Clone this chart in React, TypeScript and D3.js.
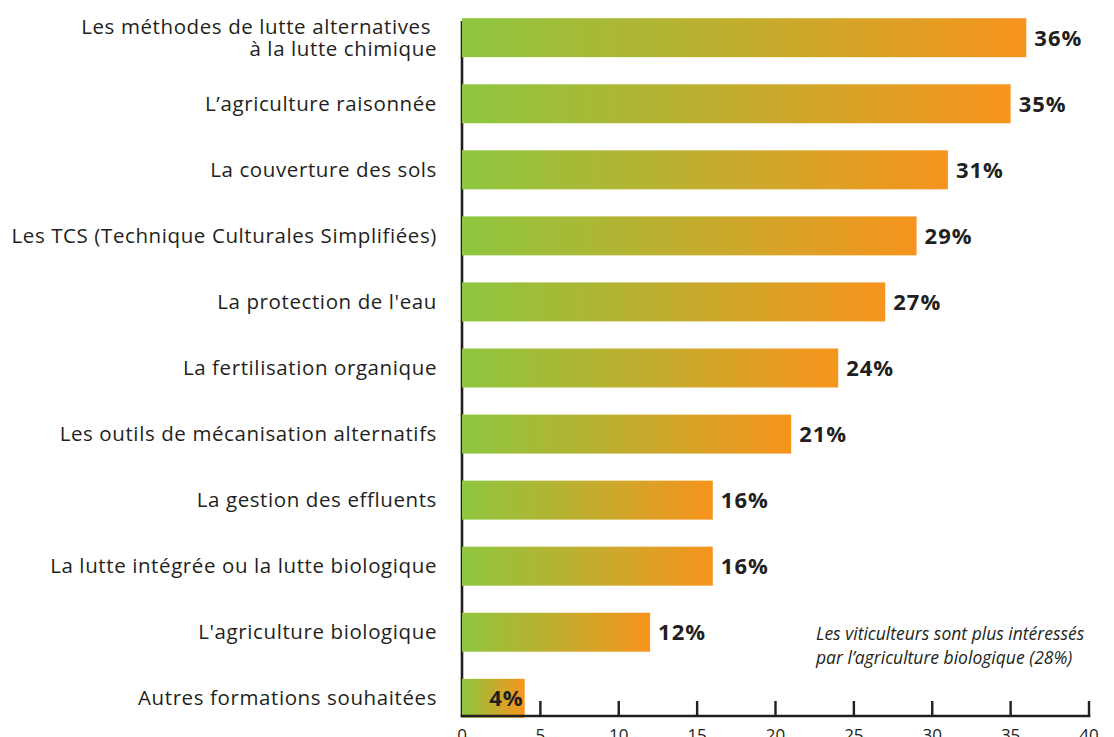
import React from "react";
import * as d3 from "d3";

const categories: string[][] = [
  ["Les méthodes de lutte alternatives ", "à la lutte chimique"],
  ["L’agriculture raisonnée"],
  ["La couverture des sols"],
  ["Les TCS (Technique Culturales Simplifiées)"],
  ["La protection de l'eau"],
  ["La fertilisation organique"],
  ["Les outils de mécanisation alternatifs"],
  ["La gestion des effluents"],
  ["La lutte intégrée ou la lutte biologique"],
  ["L'agriculture biologique"],
  ["Autres formations souhaitées"],
];
const values: number[] = [36, 35, 31, 29, 27, 24, 21, 16, 16, 12, 4];
const xTicks: number[] = [0, 5, 10, 15, 20, 25, 30, 35, 40];
const note: string[] = [
  "Les viticulteurs sont plus intéressés",
  "par l’agriculture biologique (28%)",
];

const W = 1114;
const H = 737;
const FONT = "'Open Sans', 'Noto Sans', sans-serif";
const INK = "#231f20";

export default function App() {
  const x = d3.scaleLinear().domain([0, 40]).range([462, 1089]);
  const y = d3
    .scaleBand<number>()
    .domain(d3.range(values.length))
    .range([5, 731])
    .paddingInner(0.41)
    .paddingOuter(0.2);
  const axisY = 716;

  return (
    <svg
      width={W}
      height={H}
      style={{ position: "absolute", left: 0, top: 0, background: "#fff" }}
    >
      <defs>
        <linearGradient id="barGrad" x1="0" y1="0" x2="1" y2="0">
          <stop offset="0" stopColor="#8dc63f" />
          <stop offset="1" stopColor="#f7941d" />
        </linearGradient>
      </defs>
      {/* vertical axis */}
      <line x1={x(0)} x2={x(0)} y1={21} y2={axisY + 1.3} stroke={INK} strokeWidth={2.6} />
      {/* bars */}
      {values.map((v, i) => (
        <rect
          key={i}
          x={x(0)}
          y={y(i)!}
          width={x(v) - x(0)}
          height={y.bandwidth()}
          fill="url(#barGrad)"
        />
      ))}
      {/* horizontal axis */}
      <line x1={x(0) - 1.3} x2={x(40) + 1.3} y1={axisY} y2={axisY} stroke={INK} strokeWidth={2.6} />
      {xTicks.slice(1).map((t) => (
        <line key={t} x1={x(t)} x2={x(t)} y1={axisY} y2={axisY - 15} stroke={INK} strokeWidth={2.4} />
      ))}
      {xTicks.map((t) => (
        <text
          key={"l" + t}
          x={x(t)}
          y={741}
          textAnchor="middle"
          fontFamily={FONT}
          fontSize={17}
          fill={INK}
        >
          {t}
        </text>
      ))}
      {/* category labels */}
      {categories.map((lines, i) => {
        const cy = y(i)! + y.bandwidth() / 2;
        const lh = 22;
        const startY = cy - ((lines.length - 1) * lh) / 2 + 7;
        return (
          <text
            key={"c" + i}
            textAnchor="end"
            fontFamily={FONT}
            fontSize={20.5}
            letterSpacing={0.6}
            fill={INK}
            style={{ whiteSpace: "pre" }}
          >
            {lines.map((ln, j) => (
              <tspan key={j} x={437} y={startY + j * lh}>
                {ln}
              </tspan>
            ))}
          </text>
        );
      })}
      {/* value labels */}
      {values.map((v, i) => {
        const cy = y(i)! + y.bandwidth() / 2;
        const inside = v < 8;
        return (
          <text
            key={"v" + i}
            x={inside ? x(v) - 1 : x(v) + 8}
            y={cy + 8}
            textAnchor={inside ? "end" : "start"}
            fontFamily={FONT}
            fontWeight="bold"
            fontSize={22}
            letterSpacing={1}
            fill={INK}
          >
            {v}%
          </text>
        );
      })}
      {/* note */}
      <text fontFamily={FONT} fontStyle="italic" fontSize={17.5} fill={INK}>
        {note.map((ln, j) => (
          <tspan key={j} x={816} y={640 + j * 24}>
            {ln}
          </tspan>
        ))}
      </text>
    </svg>
  );
}
